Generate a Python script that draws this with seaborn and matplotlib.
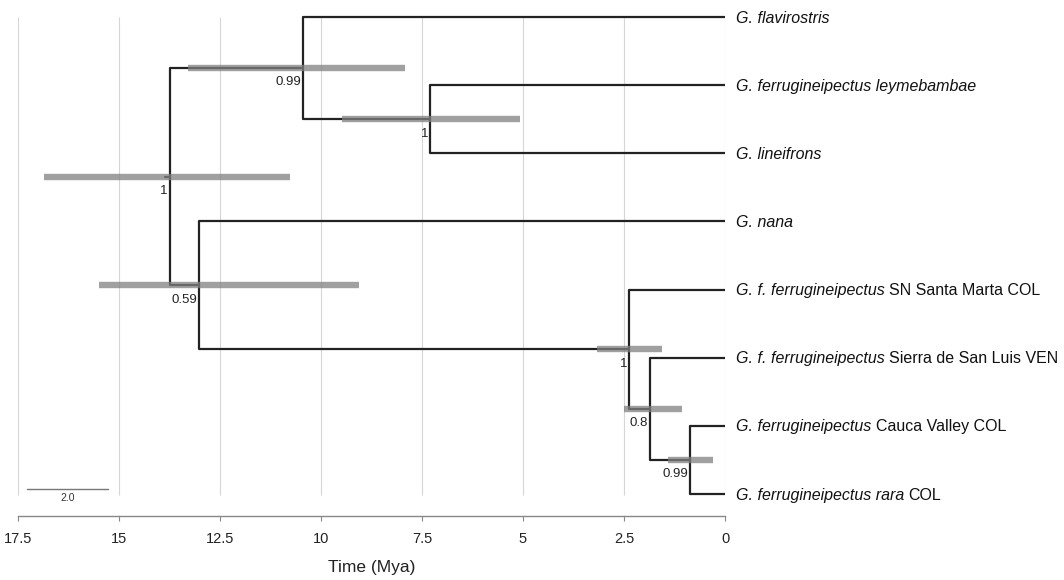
import matplotlib
matplotlib.use("Agg")
import matplotlib.pyplot as plt
import seaborn as sns
import pandas as pd

# tip labels (italic part + roman part), top to bottom
tip_italic = ["G. flavirostris", "G. ferrugineipectus leymebambae", "G. lineifrons",
              "G. nana", "G. f. ferrugineipectus", "G. f. ferrugineipectus",
              "G. ferrugineipectus", "G. ferrugineipectus rara"]
tip_roman = ["", "", "", "", "SN Santa Marta COL", "Sierra de San Luis VEN",
             "Cauca Valley COL", "COL"]

# internal nodes: children, age (Mya), 95% HPD, posterior support
node_names = ["root", "n1", "n2", "n3", "n4", "n5", "n6"]
node_left = ["n1", "t0", "t1", "t3", "t4", "t5", "t6"]
node_right = ["n3", "n2", "t2", "n4", "n5", "n6", "t7"]
node_age = [13.74, 10.44, 7.30, 13.01, 2.37, 1.86, 0.87]
hpd_low = [10.77, 7.92, 5.07, 9.06, 1.57, 1.07, 0.30]
hpd_high = [16.86, 13.28, 9.48, 15.50, 3.18, 2.49, 1.40]
posterior = ["1", "0.99", "1", "0.59", "1", "0.8", "0.99"]

time_ticks = [17.5, 15, 12.5, 10, 7.5, 5, 2.5, 0]
tick_labels = ["17.5", "15", "12.5", "10", "7.5", "5", "2.5", "0"]
root_stem = 0.12
scale_len = 2.0
scale_start = 17.28

sns.set_theme(style="white")
plt.rcParams["font.family"] = ["Liberation Sans", "DejaVu Sans"]

# node positions: tips at time 0, internal nodes at the middle of their children
pos = {"t%d" % i: (0.0, float(i)) for i in range(len(tip_italic))}
for i in reversed(range(len(node_names))):
    y = (pos[node_left[i]][1] + pos[node_right[i]][1]) / 2
    pos[node_names[i]] = (node_age[i], y)

# elbow segments for every branch
rows = []
seg = 0
for i, name in enumerate(node_names):
    nx, ny = pos[name]
    for child in (node_left[i], node_right[i]):
        cx, cy = pos[child]
        for px, py in [(nx, ny), (nx, cy), (cx, cy)]:
            rows.append({"age": px, "y": py, "seg": seg})
        seg += 1
rx, ry = pos["root"]
rows.append({"age": rx + root_stem, "y": ry, "seg": seg})
rows.append({"age": rx, "y": ry, "seg": seg})
branches = pd.DataFrame(rows)

hpd_rows = []
for i, name in enumerate(node_names):
    hpd_rows.append({"age": hpd_low[i], "y": pos[name][1], "node": name})
    hpd_rows.append({"age": hpd_high[i], "y": pos[name][1], "node": name})
hpd = pd.DataFrame(hpd_rows)

fig = plt.figure(figsize=(10.64, 5.80), dpi=100)
ax = fig.add_axes([18 / 1064, 64 / 580, 707 / 1064, 511 / 580])

ax.vlines(time_ticks, 0, 7.02, color="#d6d6d6", lw=0.8, zorder=0)

sns.lineplot(data=branches, x="age", y="y", units="seg", estimator=None, sort=False,
             color="#222222", lw=1.6, ax=ax, zorder=2)
sns.lineplot(data=hpd, x="age", y="y", units="node", estimator=None, sort=False,
             color="#808080", lw=4.6, alpha=0.75, ax=ax, zorder=3,
             solid_capstyle="butt")

for i, name in enumerate(node_names):
    ax.annotate(posterior[i], pos[name], xytext=(-1.5, -6), textcoords="offset points",
                ha="right", va="top", fontsize=9.5, color="#222222")

for i in range(len(tip_italic)):
    t1 = ax.annotate(tip_italic[i], (0, i), xytext=(8, -4), textcoords="offset points",
                     ha="left", va="baseline", fontsize=11.5, style="italic",
                     color="#111111", annotation_clip=False)
    if tip_roman[i]:
        ax.annotate(tip_roman[i], xy=(1, i), xycoords=(t1, "data"), xytext=(3, -4),
                    textcoords="offset points", ha="left", va="baseline",
                    fontsize=11.5, color="#111111", annotation_clip=False)

# scale bar
ax.plot([scale_start, scale_start - scale_len], [6.93, 6.93], color="#777777", lw=1)
ax.annotate("%.1f" % scale_len, (scale_start - scale_len / 2, 6.93), xytext=(0, -3),
            textcoords="offset points", ha="center", va="top", fontsize=7.5,
            color="#333333")

ax.set_xlim(17.5, 0)
ax.set_ylim(7.323, -0.176)
ax.set_xticks(time_ticks)
ax.set_xticklabels(tick_labels)
ax.set_yticks([])
ax.set_ylabel("")
ax.set_xlabel("Time (Mya)", fontsize=12.5, labelpad=10, color="#222222")
for s in ["left", "top", "right"]:
    ax.spines[s].set_visible(False)
ax.spines["bottom"].set_color("#888888")
ax.spines["bottom"].set_linewidth(1.0)
ax.tick_params(axis="x", bottom=True, direction="out", length=3.5, width=0.8,
               color="#888888", pad=8, labelsize=10.5, labelcolor="#222222")

fig.savefig("out.png", dpi=100)
plt.close(fig)
